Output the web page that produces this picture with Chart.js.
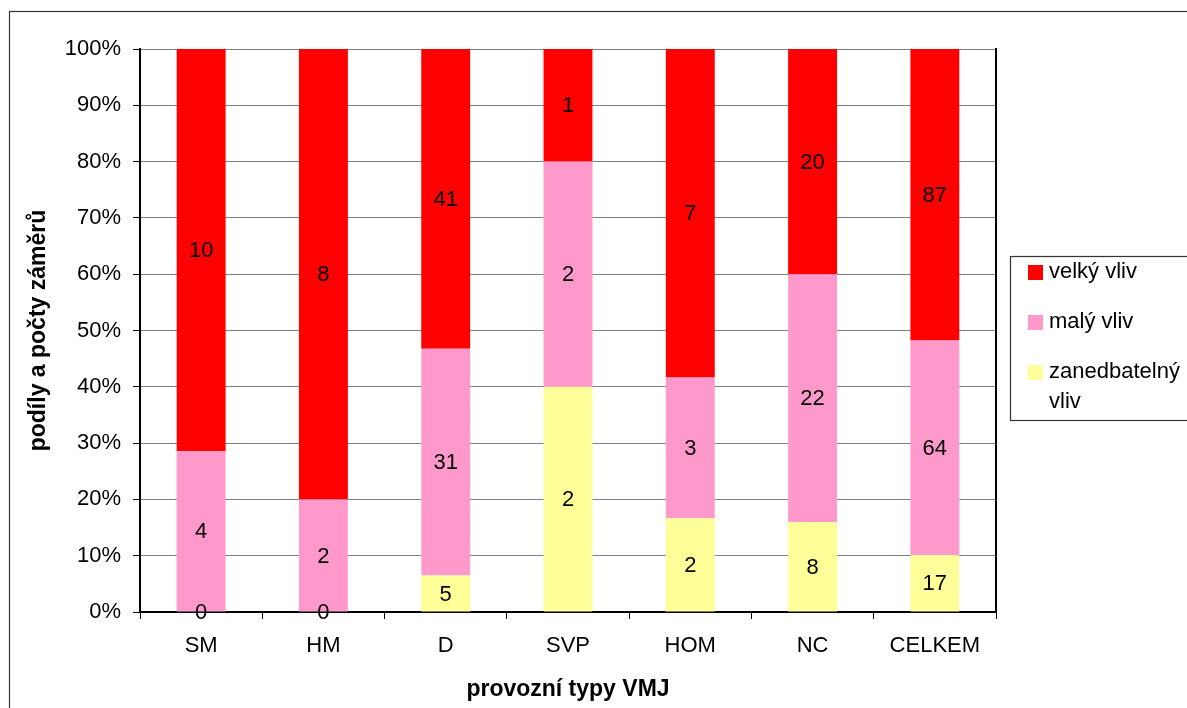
<!DOCTYPE html>
<html>
<head>
<meta charset="utf-8">
<script src="https://cdn.jsdelivr.net/npm/chart.js@4/dist/chart.umd.min.js"></script>
<style>
  html, body { margin: 0; padding: 0; background: #ffffff; }
  canvas { display: block; }
</style>
</head>
<body>
<canvas id="chart" width="1187" height="708"></canvas>
<script>
// Operating types and the number of plans in each impact class
const categories = ['SM', 'HM', 'D', 'SVP', 'HOM', 'NC', 'CELKEM'];
const zanedbatelnyVliv = [0, 0, 5, 2, 2, 8, 17];
const malyVliv = [4, 2, 31, 2, 3, 22, 64];
const velkyVliv = [10, 8, 41, 1, 7, 20, 87];
const seriesNames = ['zanedbatelný vliv', 'malý vliv', 'velký vliv'];
const seriesColors = ['#FFFF99', '#FF99CC', '#FF0000'];
const yTickValues = [0, 10, 20, 30, 40, 50, 60, 70, 80, 90, 100];

const FONT = '"Liberation Sans", Arial, sans-serif';

// Each bar shows the share of a class within its operating type
const countsBySeries = [zanedbatelnyVliv, malyVliv, velkyVliv];
const totals = categories.map((_, i) => countsBySeries.reduce((s, arr) => s + arr[i], 0));
const toShare = arr => arr.map((n, i) => n / totals[i] * 100);

const datasets = countsBySeries.map((counts, k) => ({
  label: seriesNames[k],
  data: toShare(counts),
  counts: counts,
  backgroundColor: seriesColors[k],
  borderWidth: 0,
  categoryPercentage: 1,
  barPercentage: 0.4
}));

// Count written in the middle of each segment
const valueLabels = {
  id: 'valueLabels',
  afterDatasetsDraw(chart) {
    const ctx = chart.ctx;
    ctx.save();
    ctx.font = '22px ' + FONT;
    ctx.fillStyle = '#000';
    ctx.textAlign = 'center';
    ctx.textBaseline = 'middle';
    chart.data.datasets.forEach((ds, di) => {
      const meta = chart.getDatasetMeta(di);
      meta.data.forEach((bar, i) => {
        const y = (bar.y + bar.base) / 2;
        ctx.fillText(String(ds.counts[i]), bar.x, y + 1);
      });
    });
    ctx.restore();
  }
};

// Outer frame, right edge of the plot and the boxed legend
const frame = {
  id: 'frame',
  beforeDraw(chart) {
    const ctx = chart.ctx;
    ctx.save();
    ctx.fillStyle = '#fff';
    ctx.fillRect(0, 0, chart.width, chart.height);
    ctx.strokeStyle = '#333';
    ctx.lineWidth = 1.2;
    ctx.strokeRect(9.5, 11.5, chart.width + 20, chart.height + 20);
    ctx.restore();
  },
  afterDraw(chart) {
    const ctx = chart.ctx;
    const area = chart.chartArea;
    ctx.save();
    ctx.strokeStyle = '#000';
    ctx.lineWidth = 2;
    ctx.beginPath();
    ctx.moveTo(area.right, area.top - 1);
    ctx.lineTo(area.right, area.bottom);
    ctx.stroke();

    // legend box
    const bx = 1010.5, by = 256.5, bw = 200, bh = 164;
    ctx.strokeStyle = '#333';
    ctx.lineWidth = 1.2;
    ctx.strokeRect(bx, by, bw, bh);

    ctx.font = '22px ' + FONT;
    ctx.textAlign = 'left';
    ctx.textBaseline = 'middle';
    const textX = 1049;
    const maxW = chart.width - textX - 2;
    const order = [2, 1, 0];
    const rowY = [272, 322, 372];
    order.forEach((di, r) => {
      const ds = chart.data.datasets[di];
      const y = rowY[r];
      ctx.fillStyle = ds.backgroundColor;
      ctx.fillRect(1028, y - 7, 15, 15);
      // wrap the label into lines that fit the box
      const words = ds.label.split(' ');
      const lines = [];
      let line = '';
      words.forEach(w => {
        const test = line ? line + ' ' + w : w;
        if (line && ctx.measureText(test).width > maxW) {
          lines.push(line);
          line = w;
        } else {
          line = test;
        }
      });
      if (line) lines.push(line);
      ctx.fillStyle = '#000';
      lines.forEach((l, li) => ctx.fillText(l, textX, y + li * 30));
    });
    ctx.restore();
  }
};

new Chart(document.getElementById('chart'), {
  type: 'bar',
  data: { labels: categories, datasets: datasets },
  options: {
    responsive: false,
    animation: false,
    devicePixelRatio: 1,
    layout: { padding: { top: 49, right: 191, bottom: 0, left: 0 } },
    plugins: {
      legend: { display: false },
      tooltip: { enabled: false }
    },
    scales: {
      x: {
        stacked: true,
        offset: true,
        grid: {
          offset: true,
          drawOnChartArea: false,
          drawTicks: true,
          tickLength: 7,
          tickColor: '#000',
          lineWidth: 1
        },
        border: { display: true, color: '#000', width: 2 },
        ticks: {
          color: '#000',
          font: { family: FONT, size: 22, lineHeight: 1.2 },
          padding: 14,
          maxRotation: 0,
          autoSkip: false
        },
        title: {
          display: true,
          text: 'provozní typy VMJ',
          color: '#000',
          font: { family: FONT, size: 23, weight: 'bold', lineHeight: 1.2 },
          padding: { top: 0, bottom: 5 }
        },
        afterFit(scale) { scale.height = 96; }
      },
      y: {
        stacked: true,
        min: 0,
        max: 100,
        afterBuildTicks(scale) { scale.ticks = yTickValues.map(v => ({ value: v })); },
        grid: {
          color: '#808080',
          lineWidth: 1,
          drawTicks: true,
          tickLength: 7,
          tickColor: '#000'
        },
        border: { display: true, color: '#000', width: 2 },
        ticks: {
          color: '#000',
          font: { family: FONT, size: 22, lineHeight: 1.2 },
          padding: 12,
          callback: v => v + '%'
        },
        title: {
          display: true,
          text: 'podíly a počty záměrů',
          color: '#000',
          font: { family: FONT, size: 23, weight: 'bold', lineHeight: 1.2 },
          padding: { top: 24.5, bottom: 0 }
        },
        afterFit(scale) { scale.width = 140; }
      }
    }
  },
  plugins: [frame, valueLabels]
});
</script>
</body>
</html>
